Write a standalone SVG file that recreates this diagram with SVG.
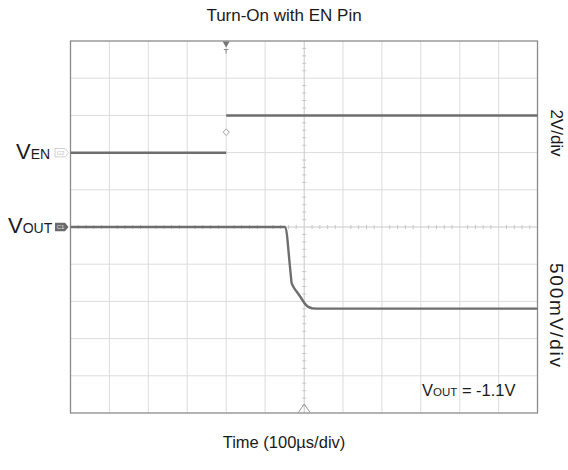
<svg xmlns="http://www.w3.org/2000/svg" width="568" height="470" viewBox="0 0 568 470">
<style>
.t{font-family:"Liberation Sans",Arial,sans-serif;fill:#1a1a1a}
.g{stroke:#dcdcdc;stroke-width:1;fill:none}
.c{stroke:#c8c8c8;stroke-width:1;fill:none}
.tr{stroke:#6e6e6e;stroke-width:2.4;fill:none;stroke-linejoin:round}
</style>
<rect width="568" height="470" fill="#fff"/>
<g id="grid">
<path class="g" d="M109.4 41V413M148.3 41V413M187.2 41V413M226.2 41V413M265.1 41V413M343 41V413M381.9 41V413M420.8 41V413M459.8 41V413M498.7 41V413"/>
<path class="g" d="M70.5 78.2H537.5M70.5 115.4H537.5M70.5 152.6H537.5M70.5 189.8H537.5M70.5 264.2H537.5M70.5 301.4H537.5M70.5 338.6H537.5M70.5 375.8H537.5"/>
<path class="c" d="M304.2 41V413M70.5 227H537.5"/>
<path class="c" d="M302.2 48.4h4M302.2 55.9h4M302.2 63.3h4M302.2 70.8h4M302.2 85.6h4M302.2 93.1h4M302.2 100.5h4M302.2 108h4M302.2 122.8h4M302.2 130.3h4M302.2 137.7h4M302.2 145.2h4M302.2 160h4M302.2 167.5h4M302.2 174.9h4M302.2 182.4h4M302.2 197.2h4M302.2 204.7h4M302.2 212.1h4M302.2 219.6h4M302.2 234.4h4M302.2 241.9h4M302.2 249.3h4M302.2 256.8h4M302.2 271.6h4M302.2 279.1h4M302.2 286.5h4M302.2 294h4M302.2 308.8h4M302.2 316.3h4M302.2 323.7h4M302.2 331.2h4M302.2 346h4M302.2 353.5h4M302.2 360.9h4M302.2 368.4h4M302.2 383.2h4M302.2 390.7h4M302.2 398.1h4M302.2 405.6h4"/>
<path class="c" d="M78.3 225v4M86.1 225v4M93.8 225v4M101.6 225v4M117.2 225v4M125 225v4M132.7 225v4M140.5 225v4M156.1 225v4M163.9 225v4M171.6 225v4M179.4 225v4M195 225v4M202.8 225v4M210.6 225v4M218.4 225v4M234 225v4M241.7 225v4M249.5 225v4M257.3 225v4M272.9 225v4M280.7 225v4M288.5 225v4M296.2 225v4M312 225v4M319.8 225v4M327.6 225v4M335.3 225v4M350.9 225v4M358.7 225v4M366.5 225v4M374.2 225v4M389.8 225v4M397.6 225v4M405.4 225v4M413.1 225v4M428.7 225v4M436.5 225v4M444.3 225v4M452 225v4M467.6 225v4M475.4 225v4M483.2 225v4M490.9 225v4M506.5 225v4M514.3 225v4M522.1 225v4M529.8 225v4"/>
<rect x="70.5" y="41" width="467" height="372" fill="none" stroke="#8a8a8a" stroke-width="1.3"/>
</g>
<g id="markers">
<path d="M222.6 41.5h7l-3.5 6z" fill="#777"/>
<path d="M223.8 49.5h4.6M226.1 49.5v4" stroke="#888" stroke-width="1" fill="none"/>
<path d="M226.2 128.8l3 3.4-3 3.4-3-3.4z" fill="#fff" stroke="#999" stroke-width="0.9"/>
<path d="M298 413l6.2-9 6.2 9" fill="none" stroke="#999" stroke-width="1"/>
</g>
<g id="connectors">
<path id="ven-trace" class="tr" d="M70.7 152.7H226.2M226.2 115.5H537.5"/>
<path id="vout-trace" class="tr" d="M70.7 227H285C286.2 227.5 286.7 231 287.5 240L289.5 262L291.5 282.5C292.5 286.5 294.5 289 297 292L300.5 297L304 302.5C306 305.5 308 307.5 312 308.3L316 308.6H537.5"/>
</g>
<g id="ven-label">
<text class="t" x="16" y="159" font-size="22">V<tspan font-size="14">EN</tspan></text>
<path d="M55 148.5h10l3.5 4.2-3.5 4.2h-10z" fill="#fff" stroke="#cfcfcf" stroke-width="1"/>
<text x="60.5" y="155.3" font-family="Liberation Sans,sans-serif" font-size="6" fill="#bdbdbd" text-anchor="middle">C2</text>
</g>
<g id="vout-label">
<text class="t" x="8" y="233" font-size="22">V<tspan font-size="14">OUT</tspan></text>
<path d="M55 222.8h10l3.5 4.2-3.5 4.2h-10z" fill="#6a6a6a"/>
<text x="60.5" y="229.4" font-family="Liberation Sans,sans-serif" font-size="6" fill="#e0e0e0" text-anchor="middle">C1</text>
</g>
<g id="title"><text class="t" x="284" y="21" font-size="17" text-anchor="middle">Turn-On with EN Pin</text></g>
<g id="xlabel"><text class="t" x="284" y="448" font-size="16.5" text-anchor="middle">Time (100µs/div)</text></g>
<g id="scale-en"><text class="t" font-size="17" text-anchor="middle" transform="translate(551 133) rotate(90)">2V/div</text></g>
<g id="scale-out"><text class="t" font-size="19" text-anchor="middle" textLength="104" lengthAdjust="spacing" transform="translate(550 315) rotate(90)">500mV/div</text></g>
<g id="vout-value"><text class="t" x="422" y="396" font-size="16.5">V<tspan font-size="11.5">OUT</tspan> = -1.1V</text></g>
</svg>
